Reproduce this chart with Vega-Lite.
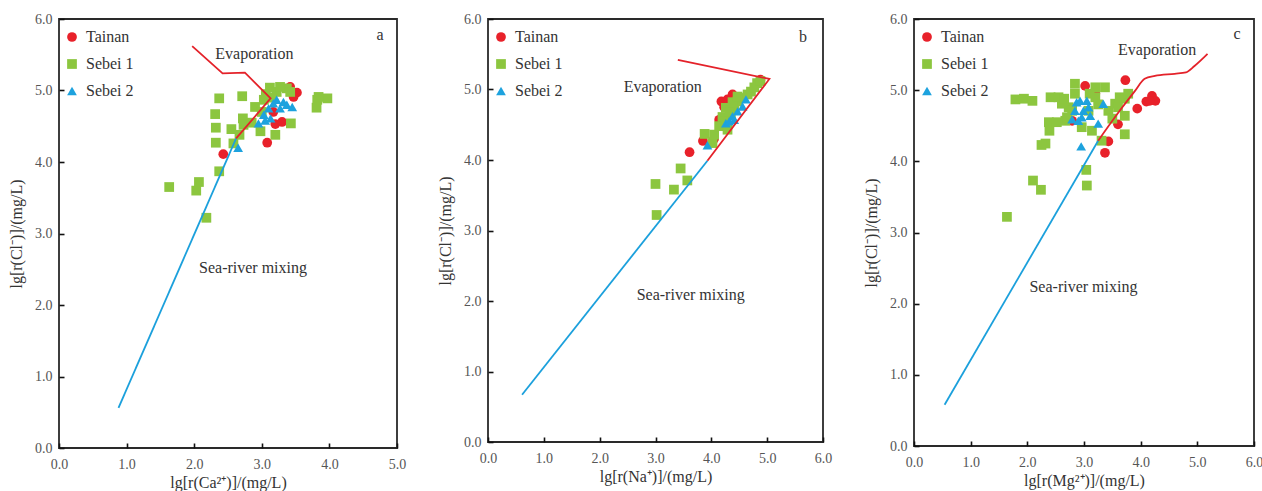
{
  "$schema": "https://vega.github.io/schema/vega-lite/v6.json",
  "padding": {"left": 7, "top": 11, "right": 0, "bottom": 0},
  "autosize": {"type": "pad"},
  "background": "white",
  "config": {
    "font": "Liberation Serif",
    "view": {"stroke": "#2a2a2a", "strokeWidth": 1.8},
    "axis": {"zindex": 1, "grid": false, "domain": false, "offset": -5, "tickColor": "#111", "tickSize": 5, "tickWidth": 1.6, "labelFont": "Liberation Serif", "labelFontSize": 14, "labelColor": "#555", "labelFlush": false, "labelOverlap": false, "titleFont": "Liberation Serif", "titleFontSize": 16, "titleFontWeight": "normal", "titleColor": "#333"},
    "axisX": {"labelPadding": 9, "titlePadding": 3},
    "axisY": {"labelPadding": 7, "titlePadding": 10},
    "legend": {"labelFont": "Liberation Serif", "labelFontSize": 16, "labelColor": "#333", "symbolSize": 95, "rowPadding": 11, "padding": 0, "labelOffset": 6, "symbolStrokeWidth": 0}
  },
  "datasets": {
    "pa": [
      {"site": "Tainan", "x": 2.43, "y": 4.11}, {"site": "Tainan", "x": 3.08, "y": 4.27}, {"site": "Tainan", "x": 3.2, "y": 4.53}, {"site": "Tainan", "x": 3.3, "y": 4.56}, {"site": "Tainan", "x": 3.52, "y": 4.97}, {"site": "Tainan", "x": 3.47, "y": 4.91}, {"site": "Tainan", "x": 3.42, "y": 5.05}, {"site": "Tainan", "x": 3.17, "y": 4.7},
      {"site": "Sebei 1", "x": 1.63, "y": 3.65}, {"site": "Sebei 1", "x": 2.07, "y": 3.72}, {"site": "Sebei 1", "x": 2.03, "y": 3.6}, {"site": "Sebei 1", "x": 2.18, "y": 3.22}, {"site": "Sebei 1", "x": 2.37, "y": 3.87}, {"site": "Sebei 1", "x": 2.32, "y": 4.27}, {"site": "Sebei 1", "x": 2.32, "y": 4.48}, {"site": "Sebei 1", "x": 2.31, "y": 4.67}, {"site": "Sebei 1", "x": 2.37, "y": 4.89}, {"site": "Sebei 1", "x": 2.71, "y": 4.92}, {"site": "Sebei 1", "x": 2.55, "y": 4.46}, {"site": "Sebei 1", "x": 2.58, "y": 4.26}, {"site": "Sebei 1", "x": 2.67, "y": 4.38}, {"site": "Sebei 1", "x": 2.72, "y": 4.61}, {"site": "Sebei 1", "x": 2.73, "y": 4.52}, {"site": "Sebei 1", "x": 2.9, "y": 4.77}, {"site": "Sebei 1", "x": 2.98, "y": 4.43}, {"site": "Sebei 1", "x": 3.03, "y": 4.87}, {"site": "Sebei 1", "x": 3.12, "y": 5.04}, {"site": "Sebei 1", "x": 3.06, "y": 4.95}, {"site": "Sebei 1", "x": 3.22, "y": 4.98}, {"site": "Sebei 1", "x": 3.37, "y": 5.03}, {"site": "Sebei 1", "x": 3.2, "y": 4.38}, {"site": "Sebei 1", "x": 3.43, "y": 4.54}, {"site": "Sebei 1", "x": 3.82, "y": 4.87}, {"site": "Sebei 1", "x": 3.81, "y": 4.76}, {"site": "Sebei 1", "x": 3.97, "y": 4.89}, {"site": "Sebei 1", "x": 3.84, "y": 4.91}, {"site": "Sebei 1", "x": 3.0, "y": 4.7}, {"site": "Sebei 1", "x": 3.42, "y": 4.98}, {"site": "Sebei 1", "x": 3.27, "y": 5.05}, {"site": "Sebei 1", "x": 2.85, "y": 4.55}, {"site": "Sebei 1", "x": 3.15, "y": 4.9},
      {"site": "Sebei 2", "x": 2.65, "y": 4.2}, {"site": "Sebei 2", "x": 2.95, "y": 4.54}, {"site": "Sebei 2", "x": 3.03, "y": 4.66}, {"site": "Sebei 2", "x": 3.1, "y": 4.75}, {"site": "Sebei 2", "x": 3.17, "y": 4.82}, {"site": "Sebei 2", "x": 3.22, "y": 4.87}, {"site": "Sebei 2", "x": 3.32, "y": 4.84}, {"site": "Sebei 2", "x": 3.45, "y": 4.77}, {"site": "Sebei 2", "x": 3.13, "y": 4.61}, {"site": "Sebei 2", "x": 3.27, "y": 4.75}, {"site": "Sebei 2", "x": 3.37, "y": 4.8}, {"site": "Sebei 2", "x": 3.05, "y": 4.58}
    ],
    "pb": [
      {"site": "Tainan", "x": 3.61, "y": 4.11}, {"site": "Tainan", "x": 3.85, "y": 4.27}, {"site": "Tainan", "x": 4.18, "y": 4.83}, {"site": "Tainan", "x": 4.23, "y": 4.75}, {"site": "Tainan", "x": 4.38, "y": 4.93}, {"site": "Tainan", "x": 4.14, "y": 4.57}, {"site": "Tainan", "x": 4.88, "y": 5.14}, {"site": "Tainan", "x": 4.29, "y": 4.86}, {"site": "Tainan", "x": 4.05, "y": 4.3},
      {"site": "Sebei 1", "x": 3.0, "y": 3.66}, {"site": "Sebei 1", "x": 3.02, "y": 3.22}, {"site": "Sebei 1", "x": 3.33, "y": 3.58}, {"site": "Sebei 1", "x": 3.45, "y": 3.88}, {"site": "Sebei 1", "x": 3.57, "y": 3.71}, {"site": "Sebei 1", "x": 3.88, "y": 4.37}, {"site": "Sebei 1", "x": 4.02, "y": 4.24}, {"site": "Sebei 1", "x": 4.05, "y": 4.36}, {"site": "Sebei 1", "x": 4.14, "y": 4.48}, {"site": "Sebei 1", "x": 4.2, "y": 4.61}, {"site": "Sebei 1", "x": 4.29, "y": 4.43}, {"site": "Sebei 1", "x": 4.35, "y": 4.64}, {"site": "Sebei 1", "x": 4.41, "y": 4.74}, {"site": "Sebei 1", "x": 4.47, "y": 4.83}, {"site": "Sebei 1", "x": 4.56, "y": 4.88}, {"site": "Sebei 1", "x": 4.65, "y": 4.93}, {"site": "Sebei 1", "x": 4.71, "y": 4.97}, {"site": "Sebei 1", "x": 4.77, "y": 5.03}, {"site": "Sebei 1", "x": 4.82, "y": 5.09}, {"site": "Sebei 1", "x": 4.88, "y": 5.12}, {"site": "Sebei 1", "x": 4.26, "y": 4.74}, {"site": "Sebei 1", "x": 4.38, "y": 4.82}, {"site": "Sebei 1", "x": 4.47, "y": 4.9}, {"site": "Sebei 1", "x": 4.25, "y": 4.55}, {"site": "Sebei 1", "x": 4.33, "y": 4.68},
      {"site": "Sebei 2", "x": 3.93, "y": 4.21}, {"site": "Sebei 2", "x": 4.26, "y": 4.52}, {"site": "Sebei 2", "x": 4.38, "y": 4.62}, {"site": "Sebei 2", "x": 4.47, "y": 4.69}, {"site": "Sebei 2", "x": 4.56, "y": 4.76}, {"site": "Sebei 2", "x": 4.62, "y": 4.86}, {"site": "Sebei 2", "x": 4.41, "y": 4.57}, {"site": "Sebei 2", "x": 4.32, "y": 4.55}
    ],
    "pc": [
      {"site": "Tainan", "x": 3.02, "y": 5.06}, {"site": "Tainan", "x": 3.73, "y": 5.14}, {"site": "Tainan", "x": 3.37, "y": 4.12}, {"site": "Tainan", "x": 3.43, "y": 4.28}, {"site": "Tainan", "x": 3.6, "y": 4.52}, {"site": "Tainan", "x": 3.94, "y": 4.74}, {"site": "Tainan", "x": 4.1, "y": 4.84}, {"site": "Tainan", "x": 4.2, "y": 4.92}, {"site": "Tainan", "x": 4.26, "y": 4.85}, {"site": "Tainan", "x": 4.16, "y": 4.85}, {"site": "Tainan", "x": 2.79, "y": 4.57}, {"site": "Tainan", "x": 3.2, "y": 4.95},
      {"site": "Sebei 1", "x": 1.64, "y": 3.22}, {"site": "Sebei 1", "x": 2.1, "y": 3.73}, {"site": "Sebei 1", "x": 2.24, "y": 3.6}, {"site": "Sebei 1", "x": 3.04, "y": 3.88}, {"site": "Sebei 1", "x": 3.05, "y": 3.66}, {"site": "Sebei 1", "x": 2.32, "y": 4.25}, {"site": "Sebei 1", "x": 2.39, "y": 4.43}, {"site": "Sebei 1", "x": 1.79, "y": 4.87}, {"site": "Sebei 1", "x": 1.94, "y": 4.88}, {"site": "Sebei 1", "x": 2.09, "y": 4.85}, {"site": "Sebei 1", "x": 2.41, "y": 4.9}, {"site": "Sebei 1", "x": 2.55, "y": 4.9}, {"site": "Sebei 1", "x": 2.38, "y": 4.55}, {"site": "Sebei 1", "x": 2.52, "y": 4.55}, {"site": "Sebei 1", "x": 2.67, "y": 4.57}, {"site": "Sebei 1", "x": 2.73, "y": 4.76}, {"site": "Sebei 1", "x": 2.84, "y": 5.09}, {"site": "Sebei 1", "x": 2.84, "y": 4.95}, {"site": "Sebei 1", "x": 2.96, "y": 4.48}, {"site": "Sebei 1", "x": 3.14, "y": 4.43}, {"site": "Sebei 1", "x": 3.2, "y": 5.04}, {"site": "Sebei 1", "x": 3.37, "y": 5.04}, {"site": "Sebei 1", "x": 3.2, "y": 4.9}, {"site": "Sebei 1", "x": 3.31, "y": 4.29}, {"site": "Sebei 1", "x": 3.43, "y": 4.71}, {"site": "Sebei 1", "x": 3.55, "y": 4.81}, {"site": "Sebei 1", "x": 3.63, "y": 4.9}, {"site": "Sebei 1", "x": 3.72, "y": 4.88}, {"site": "Sebei 1", "x": 3.72, "y": 4.64}, {"site": "Sebei 1", "x": 3.72, "y": 4.38}, {"site": "Sebei 1", "x": 3.78, "y": 4.95}, {"site": "Sebei 1", "x": 3.6, "y": 4.76}, {"site": "Sebei 1", "x": 2.61, "y": 4.81}, {"site": "Sebei 1", "x": 2.79, "y": 4.71}, {"site": "Sebei 1", "x": 3.08, "y": 4.71}, {"site": "Sebei 1", "x": 2.25, "y": 4.23}, {"site": "Sebei 1", "x": 2.65, "y": 4.88}, {"site": "Sebei 1", "x": 3.1, "y": 4.95}, {"site": "Sebei 1", "x": 2.7, "y": 4.62}, {"site": "Sebei 1", "x": 3.25, "y": 4.8}, {"site": "Sebei 1", "x": 3.5, "y": 4.6},
      {"site": "Sebei 2", "x": 2.95, "y": 4.21}, {"site": "Sebei 2", "x": 3.25, "y": 4.53}, {"site": "Sebei 2", "x": 3.34, "y": 4.81}, {"site": "Sebei 2", "x": 2.79, "y": 4.59}, {"site": "Sebei 2", "x": 2.84, "y": 4.71}, {"site": "Sebei 2", "x": 2.87, "y": 4.83}, {"site": "Sebei 2", "x": 2.93, "y": 4.85}, {"site": "Sebei 2", "x": 2.99, "y": 4.71}, {"site": "Sebei 2", "x": 3.05, "y": 4.85}, {"site": "Sebei 2", "x": 3.08, "y": 4.76}, {"site": "Sebei 2", "x": 2.96, "y": 4.62}, {"site": "Sebei 2", "x": 3.11, "y": 4.64}, {"site": "Sebei 2", "x": 2.9, "y": 4.57}
    ],
    "la": [
      {"line": "mix", "ord": 1, "x": 0.88, "y": 0.56}, {"line": "mix", "ord": 2, "x": 2.62, "y": 4.33},
      {"line": "evap", "ord": 1, "x": 2.62, "y": 4.33}, {"line": "evap", "ord": 2, "x": 3.13, "y": 4.89}, {"line": "evap", "ord": 3, "x": 2.75, "y": 5.25}, {"line": "evap", "ord": 4, "x": 2.42, "y": 5.24}, {"line": "evap", "ord": 5, "x": 1.97, "y": 5.62}
    ],
    "lb": [
      {"line": "mix", "ord": 1, "x": 0.61, "y": 0.67}, {"line": "mix", "ord": 2, "x": 3.93, "y": 3.99},
      {"line": "evap", "ord": 1, "x": 3.93, "y": 3.99}, {"line": "evap", "ord": 2, "x": 5.04, "y": 5.15}, {"line": "evap", "ord": 3, "x": 3.4, "y": 5.42}
    ],
    "lc": [
      {"line": "mix", "ord": 1, "x": 0.54, "y": 0.58}, {"line": "mix", "ord": 2, "x": 3.25, "y": 4.29},
      {"line": "evap", "ord": 1, "x": 3.25, "y": 4.29}, {"line": "evap", "ord": 2, "x": 3.63, "y": 4.71}, {"line": "evap", "ord": 3, "x": 3.9, "y": 4.99}, {"line": "evap", "ord": 4, "x": 4.07, "y": 5.16}, {"line": "evap", "ord": 5, "x": 4.25, "y": 5.2}, {"line": "evap", "ord": 6, "x": 4.6, "y": 5.23}, {"line": "evap", "ord": 7, "x": 4.8, "y": 5.25}, {"line": "evap", "ord": 8, "x": 4.95, "y": 5.34}, {"line": "evap", "ord": 9, "x": 5.18, "y": 5.51}
    ],
    "ta": [
      {"label": "Evaporation", "x": 2.89, "y": 5.51}, {"label": "Sea-river mixing", "x": 2.87, "y": 2.52}, {"label": "a", "x": 4.75, "y": 5.78}
    ],
    "tb": [
      {"label": "Evaporation", "x": 3.13, "y": 5.04}, {"label": "Sea-river mixing", "x": 3.63, "y": 2.08}, {"label": "b", "x": 5.64, "y": 5.74}
    ],
    "tc": [
      {"label": "Evaporation", "x": 4.29, "y": 5.56}, {"label": "Sea-river mixing", "x": 2.99, "y": 2.24}, {"label": "c", "x": 5.7, "y": 5.79}
    ]
  },
  "bounds": "flush",
  "spacing": 91,
  "resolve": {
    "scale": {"x": "independent", "y": "independent", "color": "independent", "shape": "independent"},
    "legend": {"color": "independent", "shape": "independent"}
  },
  "hconcat": [
    {
      "width": 338, "height": 429,
      "encoding": {
        "x": {"field": "x", "type": "quantitative", "scale": {"domain": [0, 5], "nice": false, "zero": false}, "axis": {"title": "lg[r(Ca²⁺)]/(mg/L)", "values": [0, 1, 2, 3, 4, 5], "format": ".1f"}},
        "y": {"field": "y", "type": "quantitative", "scale": {"domain": [0, 6], "nice": false, "zero": false}, "axis": {"title": "lg[r(Cl⁻)]/(mg/L)", "values": [0, 1, 2, 3, 4, 5, 6], "format": ".1f"}}
      },
      "layer": [
        {
          "data": {"name": "pa"},
          "mark": {"type": "point", "filled": true, "opacity": 1, "size": 95},
          "encoding": {
            "color": {"field": "site", "type": "nominal", "scale": {"domain": ["Tainan", "Sebei 1", "Sebei 2"], "range": ["#e8212a", "#8cc63f", "#1da2de"]}, "legend": {"title": null, "orient": "none", "legendX": 5, "legendY": 10}},
            "shape": {"field": "site", "type": "nominal", "scale": {"domain": ["Tainan", "Sebei 1", "Sebei 2"], "range": ["circle", "square", "triangle-up"]}, "legend": {"title": null, "orient": "none", "legendX": 5, "legendY": 10}}
          }
        },
        {
          "data": {"name": "la"},
          "transform": [{"filter": "datum.line === 'mix'"}],
          "mark": {"type": "line", "color": "#1ba0dc", "strokeWidth": 1.8},
          "encoding": {"order": {"field": "ord", "type": "quantitative"}}
        },
        {
          "data": {"name": "la"},
          "transform": [{"filter": "datum.line === 'evap'"}],
          "mark": {"type": "line", "color": "#e4222a", "strokeWidth": 1.8},
          "encoding": {"order": {"field": "ord", "type": "quantitative"}}
        },
        {
          "data": {"name": "ta"},
          "mark": {"type": "text", "font": "Liberation Serif", "fontSize": 16, "color": "#333"},
          "encoding": {"text": {"field": "label", "type": "nominal"}}
        }
      ]
    },
    {
      "width": 335, "height": 423,
      "encoding": {
        "x": {"field": "x", "type": "quantitative", "scale": {"domain": [0, 6], "nice": false, "zero": false}, "axis": {"title": "lg[r(Na⁺)]/(mg/L)", "values": [0, 1, 2, 3, 4, 5, 6], "format": ".1f"}},
        "y": {"field": "y", "type": "quantitative", "scale": {"domain": [0, 6], "nice": false, "zero": false}, "axis": {"title": "lg[r(Cl⁻)]/(mg/L)", "values": [0, 1, 2, 3, 4, 5, 6], "format": ".1f"}}
      },
      "layer": [
        {
          "data": {"name": "pb"},
          "mark": {"type": "point", "filled": true, "opacity": 1, "size": 95},
          "encoding": {
            "color": {"field": "site", "type": "nominal", "scale": {"domain": ["Tainan", "Sebei 1", "Sebei 2"], "range": ["#e8212a", "#8cc63f", "#1da2de"]}, "legend": {"title": null, "orient": "none", "legendX": 5, "legendY": 10}},
            "shape": {"field": "site", "type": "nominal", "scale": {"domain": ["Tainan", "Sebei 1", "Sebei 2"], "range": ["circle", "square", "triangle-up"]}, "legend": {"title": null, "orient": "none", "legendX": 5, "legendY": 10}}
          }
        },
        {
          "data": {"name": "lb"},
          "transform": [{"filter": "datum.line === 'mix'"}],
          "mark": {"type": "line", "color": "#1ba0dc", "strokeWidth": 1.8},
          "encoding": {"order": {"field": "ord", "type": "quantitative"}}
        },
        {
          "data": {"name": "lb"},
          "transform": [{"filter": "datum.line === 'evap'"}],
          "mark": {"type": "line", "color": "#e4222a", "strokeWidth": 1.8},
          "encoding": {"order": {"field": "ord", "type": "quantitative"}}
        },
        {
          "data": {"name": "tb"},
          "mark": {"type": "text", "font": "Liberation Serif", "fontSize": 16, "color": "#333"},
          "encoding": {"text": {"field": "label", "type": "nominal"}}
        }
      ]
    },
    {
      "width": 340, "height": 427,
      "encoding": {
        "x": {"field": "x", "type": "quantitative", "scale": {"domain": [0, 6], "nice": false, "zero": false}, "axis": {"title": "lg[r(Mg²⁺)]/(mg/L)", "values": [0, 1, 2, 3, 4, 5, 6], "format": ".1f"}},
        "y": {"field": "y", "type": "quantitative", "scale": {"domain": [0, 6], "nice": false, "zero": false}, "axis": {"title": "lg[r(Cl⁻)]/(mg/L)", "values": [0, 1, 2, 3, 4, 5, 6], "format": ".1f"}}
      },
      "layer": [
        {
          "data": {"name": "pc"},
          "mark": {"type": "point", "filled": true, "opacity": 1, "size": 95},
          "encoding": {
            "color": {"field": "site", "type": "nominal", "scale": {"domain": ["Tainan", "Sebei 1", "Sebei 2"], "range": ["#e8212a", "#8cc63f", "#1da2de"]}, "legend": {"title": null, "orient": "none", "legendX": 5, "legendY": 10}},
            "shape": {"field": "site", "type": "nominal", "scale": {"domain": ["Tainan", "Sebei 1", "Sebei 2"], "range": ["circle", "square", "triangle-up"]}, "legend": {"title": null, "orient": "none", "legendX": 5, "legendY": 10}}
          }
        },
        {
          "data": {"name": "lc"},
          "transform": [{"filter": "datum.line === 'mix'"}],
          "mark": {"type": "line", "color": "#1ba0dc", "strokeWidth": 1.8},
          "encoding": {"order": {"field": "ord", "type": "quantitative"}}
        },
        {
          "data": {"name": "lc"},
          "transform": [{"filter": "datum.line === 'evap'"}],
          "mark": {"type": "line", "color": "#e4222a", "strokeWidth": 1.8, "interpolate": "monotone"},
          "encoding": {"order": {"field": "ord", "type": "quantitative"}}
        },
        {
          "data": {"name": "tc"},
          "mark": {"type": "text", "font": "Liberation Serif", "fontSize": 16, "color": "#333"},
          "encoding": {"text": {"field": "label", "type": "nominal"}}
        }
      ]
    }
  ]
}
